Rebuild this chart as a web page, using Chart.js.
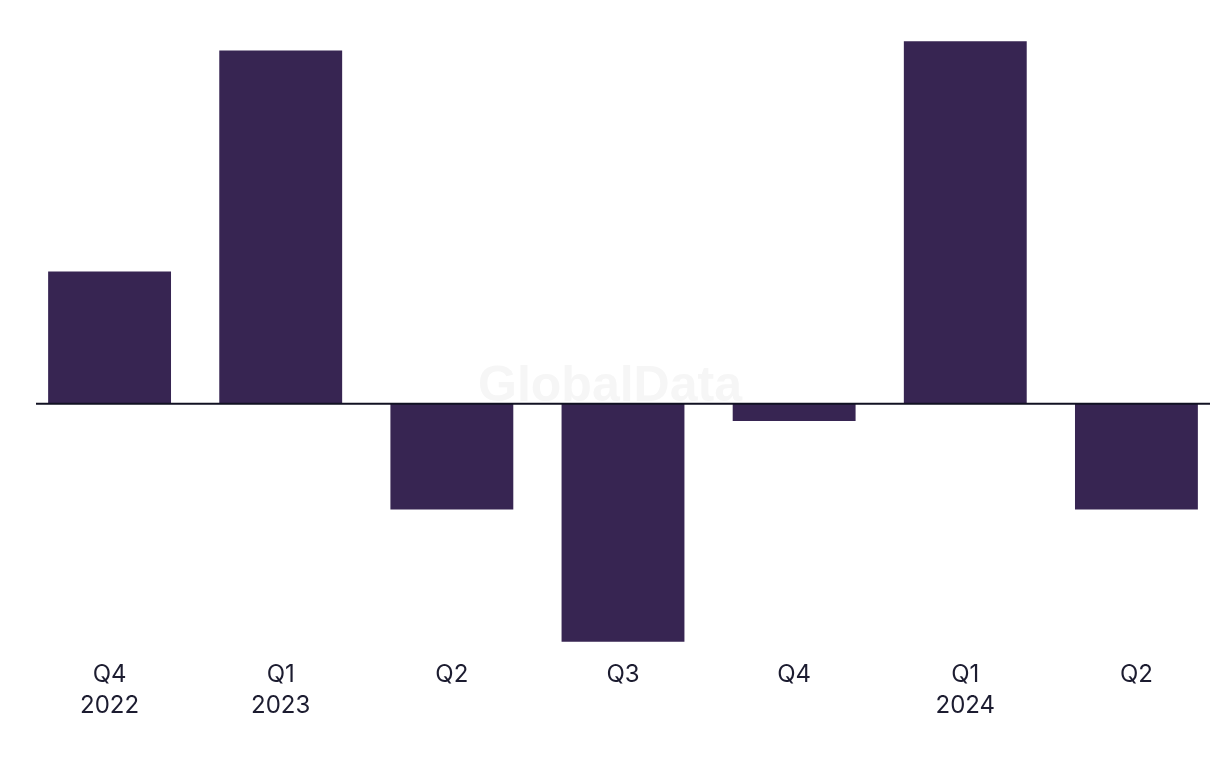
<!DOCTYPE html>
<html>
<head>
<meta charset="utf-8">
<script src="https://cdn.jsdelivr.net/npm/chart.js@4"></script>
<style>
  html, body { margin: 0; padding: 0; background: #fff; overflow: hidden; }
  #wrap { width: 1222px; height: 768px; position: relative; }
</style>
</head>
<body>
<div id="wrap"><canvas id="Plot"></canvas></div>
<script>
var quarters = [["Q4", "2022"], ["Q1", "2023"], ["Q2"], ["Q3"], ["Q4"], ["Q1", "2024"], ["Q2"]];
var values = [5.0, 13.35, -4.0, -9.0, -0.65, 13.7, -4.0];

var ctx = document.getElementById("Plot").getContext('2d');

// watermark + zero line drawn behind / over the bars
var extras = {
  id: 'extras',
  beforeDatasetsDraw: function(chart) {
    var c = chart.ctx;
    var y0 = chart.scales.y.getPixelForValue(0);
    c.save();
    c.fillStyle = '#f6f6f6';
    c.font = 'bold 50px "Liberation Sans", Arial, sans-serif';
    c.textAlign = 'center';
    c.textBaseline = 'alphabetic';
    c.fillText('GlobalData', 610, y0 - 3);
    c.restore();
  },
  afterDatasetsDraw: function(chart) {
    var c = chart.ctx;
    var y0 = chart.scales.y.getPixelForValue(0);
    c.save();
    c.strokeStyle = '#111122';
    c.lineWidth = 2;
    c.beginPath();
    c.moveTo(36, y0);
    c.lineTo(1210, y0);
    c.stroke();
    c.restore();
  }
};

var myChart = new Chart(ctx, {
  type: 'bar',
  data: {
    labels: quarters,
    datasets: [{
      data: values,
      backgroundColor: '#372552',
      borderWidth: 0,
      barPercentage: 0.718,
      categoryPercentage: 1
    }]
  },
  options: {
    responsive: true,
    maintainAspectRatio: false,
    animation: false,
    layout: { padding: { left: 24, right: 0, top: 33.4, bottom: 43 } },
    plugins: {
      legend: { display: false },
      tooltip: { enabled: false }
    },
    scales: {
      y: {
        display: false,
        min: -9.5,
        max: 14
      },
      x: {
        grid: { display: false, drawTicks: false },
        border: { display: false },
        ticks: {
          color: '#1c1c30',
          padding: 4,
          font: { family: 'Inter, "Liberation Sans", sans-serif', size: 24, lineHeight: 1.29 },
          maxRotation: 0
        }
      }
    }
  },
  plugins: [extras]
});
</script>
</body>
</html>
